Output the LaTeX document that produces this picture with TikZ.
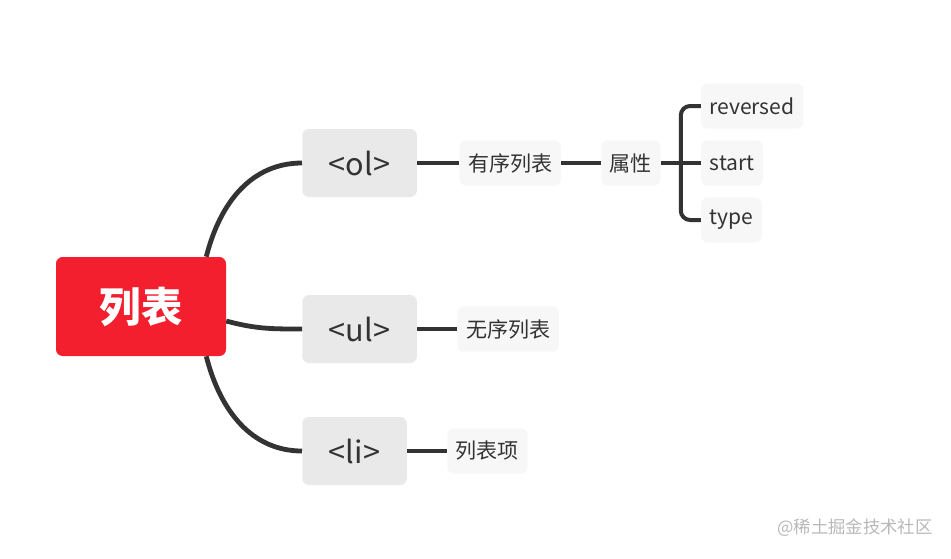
\documentclass[tikz,border=0pt]{standalone}
\usepackage{fontspec}
\setmainfont{Noto Sans CJK SC}
\usepackage{tikz}
\usetikzlibrary{positioning, calc}
\definecolor{rootred}{HTML}{F41F2E}
\definecolor{linegray}{HTML}{333333}
\definecolor{tagfill}{HTML}{E9E9E9}
\definecolor{leaffill}{HTML}{F7F7F7}

\begin{document}
\begin{tikzpicture}[
  x=0.75pt, y=-0.75pt,
  node distance=30pt,
  rootbox/.style={rectangle, fill=rootred, text=white, rounded corners=5pt,
                  minimum width=127.5pt, minimum height=74.25pt,
                  font=\fontsize{31}{36}\selectfont\bfseries},
  tag/.style={rectangle, fill=tagfill, text=linegray, rounded corners=5pt,
              inner xsep=20pt, minimum height=51pt,
              font=\fontsize{23}{27}\selectfont},
  leaf/.style={rectangle, fill=leaffill, text=linegray, rounded corners=5pt,
               inner xsep=6.4pt, minimum height=34pt,
               font=\fontsize{15.8}{18}\selectfont},
  branch/.style={draw=linegray, line width=3.6pt},
  twig/.style={draw=linegray, line width=3pt},
]
  \useasboundingbox (0,0) rectangle (951,558);

  \node[rootbox] (root) at (141,306.5) {列表};
  \node[tag, anchor=west] (ol) at (302,163) {<ol>};
  \node[tag, anchor=west] (ul) at (302,329) {<ul>};
  \node[tag, anchor=west] (li) at (302,451) {<li>};

  \node[leaf, right=31.5pt of ol] (ordered) {有序列表};
  \node[leaf, right=of ordered] (attr) {属性};
  \node[leaf, right=of attr] (start) {start};
  \node[leaf, anchor=west] (rev) at ([yshift=42.75pt]start.west) {reversed};
  \node[leaf, anchor=west] (type) at ([yshift=-42.75pt]start.west) {type};
  \node[leaf, right=of ul] (unordered) {无序列表};
  \node[leaf, right=of li] (item) {列表项};

  \coordinate (fork) at ($(attr.east)!0.5!(start.west)$);

  % main branches
  \draw[branch] ([xshift=-15pt]root.north east) .. controls +(14,-55) and +(-50,0) .. (ol.west);
  \draw[branch] ([yshift=-10.9pt]root.east) .. controls +(30,8) and +(-30,0) .. (ul.west);
  \draw[branch] ([xshift=-15pt]root.south east) .. controls +(14,55) and +(-50,0) .. (li.west);

  \draw[twig] (ol) -- (ordered);
  \draw[twig] (ordered) -- (attr);
  \draw[twig] (attr) -- (start);
  \draw[twig, rounded corners=7pt] (rev.west) -| (fork) |- (type.west);
  \draw[twig] (ul) -- (unordered);
  \draw[twig] (li) -- (item);

  \node[text=black!28, font=\fontsize{13}{15}\selectfont] (mark) at (855,528) {@稀土掘金技术社区};
\end{tikzpicture}
\end{document}
